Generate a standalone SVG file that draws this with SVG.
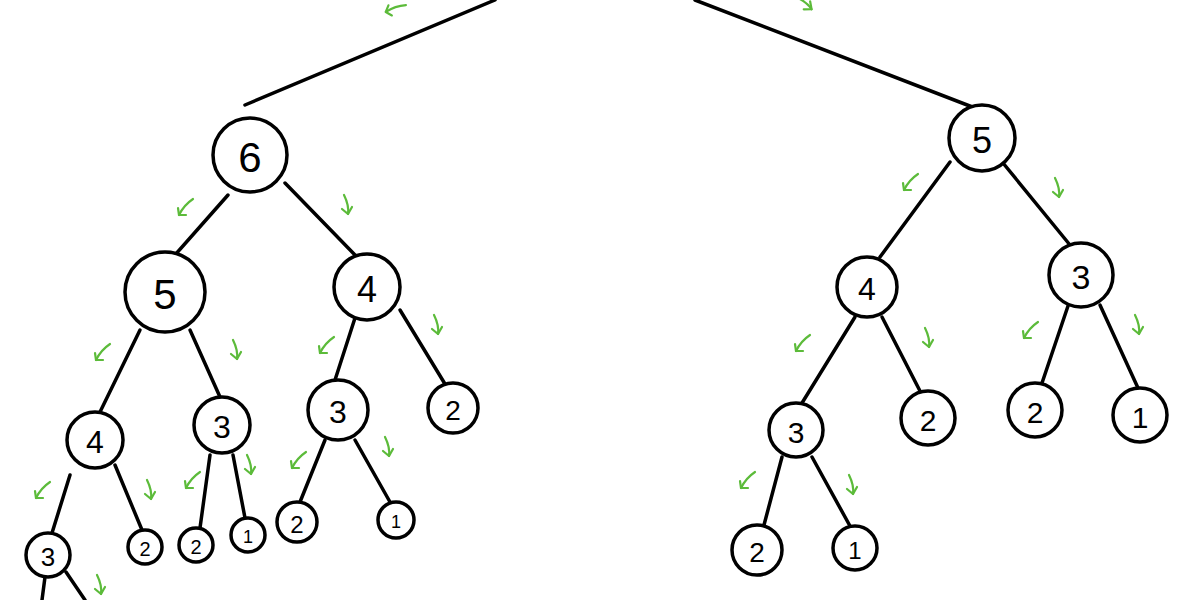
<svg xmlns="http://www.w3.org/2000/svg" width="1200" height="600" viewBox="0 0 1200 600">
<style>
.n circle{fill:#fff;stroke:#000;stroke-width:3.5}
.n text{font-family:"Liberation Sans",sans-serif;text-anchor:middle;dominant-baseline:central;fill:#000}
#edges line{stroke:#000;stroke-width:3.5;stroke-linecap:round}
.g{fill:none;stroke:#5cbb3a;stroke-width:2.2;stroke-linecap:round;stroke-linejoin:round}
</style>
<defs>
<g id="dl"><path class="g" d="M8,-8 C2,-4 -3,2 -6,8"/><path class="g" d="M-7,1 L-6,8 L1,8"/></g>
<g id="dn"><path class="g" d="M-3,-10 C0,-4 2,2 1,9"/><path class="g" d="M-5,4 L1,9 L5,2"/></g>
</defs>
<rect width="1200" height="600" fill="#fff"/>
<g id="edges">
<line x1="495" y1="0" x2="245" y2="105"/><line x1="695" y1="0" x2="975" y2="108"/>
<line x1="228" y1="195" x2="175" y2="255"/><line x1="285" y1="183" x2="355" y2="255"/>
<line x1="140" y1="330" x2="100" y2="412"/><line x1="190" y1="330" x2="220" y2="397"/>
<line x1="355" y1="318" x2="335" y2="380"/><line x1="400" y1="310" x2="445" y2="384"/>
<line x1="70" y1="475" x2="52" y2="533"/><line x1="115" y1="465" x2="142" y2="530"/>
<line x1="210" y1="455" x2="200" y2="528"/><line x1="233" y1="455" x2="245" y2="518"/>
<line x1="325" y1="440" x2="300" y2="502"/><line x1="355" y1="440" x2="390" y2="502"/>
<line x1="45" y1="577" x2="42" y2="600"/><line x1="66" y1="572" x2="85" y2="600"/>
<line x1="950" y1="162" x2="880" y2="257"/><line x1="1003" y1="163" x2="1070" y2="245"/>
<line x1="855" y1="317" x2="802" y2="403"/><line x1="882" y1="317" x2="920" y2="391"/>
<line x1="1068" y1="306" x2="1042" y2="383"/><line x1="1100" y1="305" x2="1138" y2="388"/>
<line x1="782" y1="457" x2="764" y2="525"/><line x1="812" y1="457" x2="850" y2="526"/>
</g>
<g id="n1" class="n"><circle cx="250" cy="155" r="37"/><text x="250" y="157" font-size="42">6</text></g>
<g id="n2" class="n"><circle cx="165" cy="292" r="40"/><text x="165" y="294" font-size="42">5</text></g>
<g id="n3" class="n"><circle cx="367" cy="287" r="33"/><text x="367" y="289" font-size="36">4</text></g>
<g id="n4" class="n"><circle cx="95" cy="440" r="28"/><text x="95" y="442" font-size="32">4</text></g>
<g id="n5" class="n"><circle cx="222" cy="425" r="28"/><text x="222" y="427" font-size="32">3</text></g>
<g id="n6" class="n"><circle cx="338" cy="410" r="30"/><text x="338" y="412" font-size="32">3</text></g>
<g id="n7" class="n"><circle cx="453" cy="408" r="25"/><text x="453" y="410" font-size="28">2</text></g>
<g id="n8" class="n"><circle cx="48" cy="555" r="22"/><text x="48" y="557" font-size="26">3</text></g>
<g id="n9" class="n"><circle cx="145" cy="547" r="17"/><text x="145" y="549" font-size="20">2</text></g>
<g id="n10" class="n"><circle cx="196" cy="545" r="17"/><text x="196" y="547" font-size="20">2</text></g>
<g id="n11" class="n"><circle cx="248" cy="535" r="17"/><text x="248" y="537" font-size="18">1</text></g>
<g id="n12" class="n"><circle cx="297" cy="522" r="20"/><text x="297" y="524" font-size="24">2</text></g>
<g id="n13" class="n"><circle cx="396" cy="520" r="18"/><text x="396" y="522" font-size="18">1</text></g>
<g id="n14" class="n"><circle cx="982" cy="138" r="33"/><text x="982" y="140" font-size="36">5</text></g>
<g id="n15" class="n"><circle cx="867" cy="287" r="30"/><text x="867" y="289" font-size="32">4</text></g>
<g id="n16" class="n"><circle cx="1081" cy="275" r="32"/><text x="1081" y="277" font-size="34">3</text></g>
<g id="n17" class="n"><circle cx="796" cy="430" r="27"/><text x="796" y="432" font-size="30">3</text></g>
<g id="n18" class="n"><circle cx="928" cy="418" r="27"/><text x="928" y="420" font-size="30">2</text></g>
<g id="n19" class="n"><circle cx="1035" cy="410" r="27"/><text x="1035" y="412" font-size="30">2</text></g>
<g id="n20" class="n"><circle cx="1140" cy="415" r="27"/><text x="1140" y="417" font-size="30">1</text></g>
<g id="n21" class="n"><circle cx="757" cy="550" r="25"/><text x="757" y="552" font-size="28">2</text></g>
<g id="n22" class="n"><circle cx="855" cy="548" r="22"/><text x="855" y="550" font-size="24">1</text></g>
<g id="arrows">
<use href="#dl" transform="translate(395,8) rotate(30)"/><use href="#dn" transform="translate(805,3) rotate(-40)"/>
<use href="#dl" x="185" y="207"/><use href="#dn" x="347" y="205"/>
<use href="#dl" x="102" y="352"/><use href="#dn" x="236" y="350"/>
<use href="#dl" x="326" y="345"/><use href="#dn" x="437" y="325"/>
<use href="#dl" x="42" y="490"/><use href="#dn" x="150" y="490"/>
<use href="#dl" x="192" y="480"/><use href="#dn" x="250" y="465"/>
<use href="#dl" x="298" y="460"/><use href="#dn" x="388" y="447"/>
<use href="#dn" x="100" y="585"/>
<use href="#dl" x="910" y="182"/><use href="#dn" x="1058" y="188"/>
<use href="#dl" x="802" y="343"/><use href="#dn" x="928" y="338"/>
<use href="#dl" x="1030" y="330"/><use href="#dn" x="1138" y="325"/>
<use href="#dl" x="747" y="480"/><use href="#dn" x="852" y="485"/>
</g>
</svg>
